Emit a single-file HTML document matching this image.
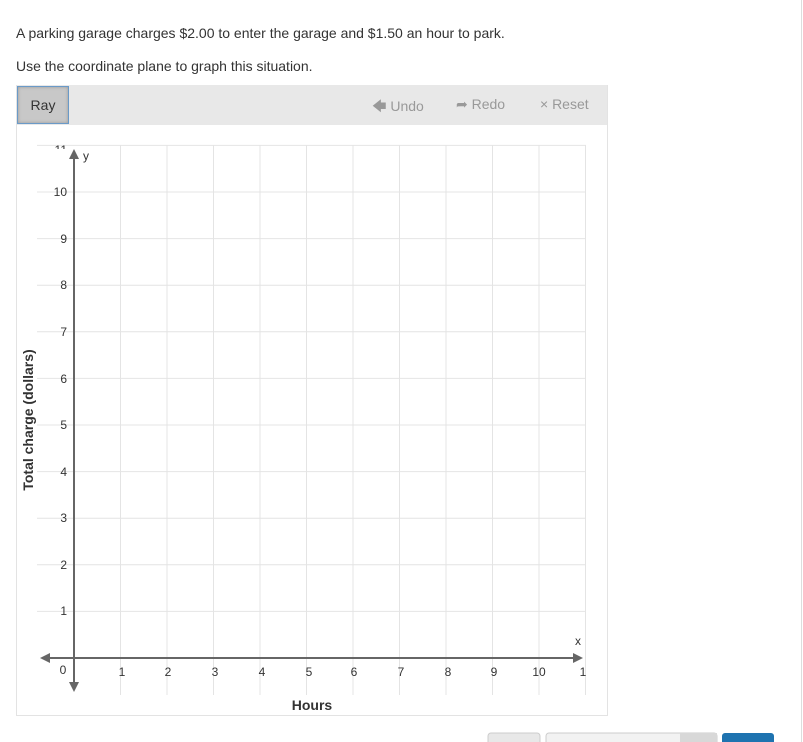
<!DOCTYPE html>
<html><head><style>
body{margin:0;width:803px;height:742px;overflow:hidden;background:#fff;font-family:"Liberation Sans",sans-serif;position:relative}
.t{position:absolute;left:16px;font-size:14px;color:#333}
</style></head><body>
<div class="t" style="top:25px">A parking garage charges $2.00 to enter the garage and $1.50 an hour to park.</div>
<div class="t" style="top:58px">Use the coordinate plane to graph this situation.</div>
<div style="position:absolute;left:16px;top:85px;width:590px;height:629px;border:1px solid #e3e3e3"></div>
<div style="position:absolute;left:17px;top:85px;width:590px;height:40px;background:#e8e8e8"></div>
<div style="position:absolute;left:17px;top:86px;width:50px;height:36px;background:#c8c8c8;border:1px solid #6a9ac8;box-shadow:inset 0 0 3px #999;font-size:14px;color:#333;text-align:center;line-height:36px">Ray</div>
<div style="position:absolute;top:96px;left:372px;font-size:14px;color:#999">🡄 Undo</div>
<div style="position:absolute;top:96px;left:456px;font-size:14px;color:#999">➦ Redo</div>
<div style="position:absolute;top:96px;left:540px;font-size:14px;color:#999">× Reset</div>
<svg width="803" height="742" style="position:absolute;left:0;top:0" font-family="Liberation Sans,sans-serif">
<defs><clipPath id="c" clipPathUnits="userSpaceOnUse"><rect x="0" y="145" width="803" height="4"/></clipPath></defs>
<g stroke="#e4e4e4" stroke-width="1">
<line x1="120.5" y1="145" x2="120.5" y2="695"/><line x1="167" y1="145" x2="167" y2="695"/><line x1="213.5" y1="145" x2="213.5" y2="695"/><line x1="260" y1="145" x2="260" y2="695"/><line x1="306.5" y1="145" x2="306.5" y2="695"/><line x1="353" y1="145" x2="353" y2="695"/><line x1="399.5" y1="145" x2="399.5" y2="695"/><line x1="446" y1="145" x2="446" y2="695"/><line x1="492.5" y1="145" x2="492.5" y2="695"/><line x1="539" y1="145" x2="539" y2="695"/><line x1="585.5" y1="145" x2="585.5" y2="695"/>
<line x1="37" y1="145.4" x2="586" y2="145.4"/><line x1="37" y1="192" x2="586" y2="192"/><line x1="37" y1="238.6" x2="586" y2="238.6"/><line x1="37" y1="285.2" x2="586" y2="285.2"/><line x1="37" y1="331.8" x2="586" y2="331.8"/><line x1="37" y1="378.4" x2="586" y2="378.4"/><line x1="37" y1="425" x2="586" y2="425"/><line x1="37" y1="471.6" x2="586" y2="471.6"/><line x1="37" y1="518.2" x2="586" y2="518.2"/><line x1="37" y1="564.8" x2="586" y2="564.8"/><line x1="37" y1="611.4" x2="586" y2="611.4"/>
</g>
<g stroke="#666" stroke-width="2"><line x1="48" y1="658" x2="574" y2="658"/><line x1="74" y1="156" x2="74" y2="682"/></g>
<g fill="#666"><polygon points="40,658 50,653 50,663"/><polygon points="583,658 573,653 573,663"/><polygon points="74,149 69,159 79,159"/><polygon points="74,692 69,682 79,682"/></g>
<g font-size="12" fill="#333" text-anchor="middle">
<text x="122" y="676">1</text><text x="168" y="676">2</text><text x="215" y="676">3</text><text x="262" y="676">4</text><text x="309" y="676">5</text><text x="354" y="676">6</text><text x="401" y="676">7</text><text x="448" y="676">8</text><text x="494" y="676">9</text><text x="539" y="676">10</text><text x="583" y="676">1</text>
<text x="63" y="674">0</text>
</g>
<g font-size="12" fill="#333" text-anchor="end">
<g clip-path="url(#c)"><text x="67" y="154">11</text></g><text x="67" y="196">10</text><text x="67" y="243">9</text><text x="67" y="289">8</text><text x="67" y="336">7</text><text x="67" y="383">6</text><text x="67" y="429">5</text><text x="67" y="476">4</text><text x="67" y="522">3</text><text x="67" y="569">2</text><text x="67" y="615">1</text>
</g>
<text x="83" y="160" font-size="12" fill="#333">y</text>
<text x="575" y="645" font-size="12" fill="#333">x</text>
<text x="312" y="710" font-size="14" font-weight="bold" fill="#333" text-anchor="middle">Hours</text>
<text transform="translate(33,420) rotate(-90)" font-size="14" font-weight="bold" fill="#333" text-anchor="middle">Total charge (dollars)</text>
<rect x="488" y="733" width="52" height="12" rx="3" fill="#e8e8e8" stroke="#ccc"/>
<rect x="546" y="733" width="171" height="12" rx="3" fill="#f2f2f2" stroke="#ccc"/>
<rect x="680" y="733" width="37" height="12" fill="#d8d8d8"/>
<rect x="722" y="733" width="52" height="12" rx="3" fill="#1e73b0"/>
<line x1="801.5" y1="0" x2="801.5" y2="742" stroke="#ddd"/>
</svg>
</body></html>
